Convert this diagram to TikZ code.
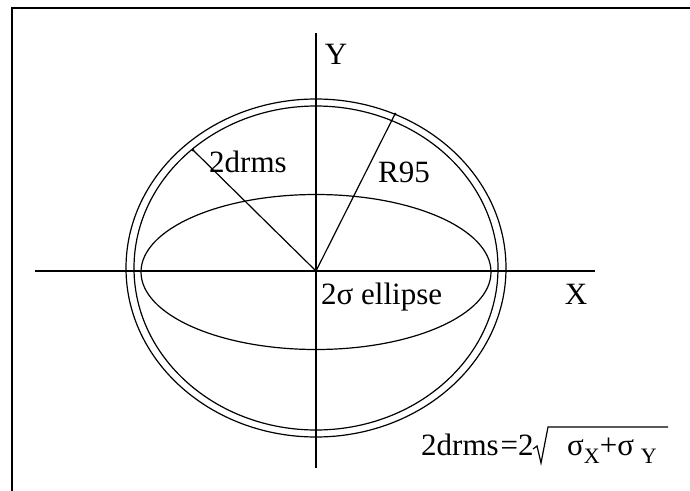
\documentclass[tikz,border=0pt]{standalone}
\usepackage{fontspec}
\setmainfont{Liberation Serif}
\newcommand{\subtxt}[1]{\raisebox{-0.28em}{\fontsize{22}{26}\selectfont #1}}
\begin{document}
\begin{tikzpicture}[x=1pt,y=-1pt,
  curve/.style={line width=1.2pt},
  axis/.style={line width=1.3pt},
  lbl/.style={inner sep=0pt,font=\fontsize{31}{36}\selectfont},
  tick/.style={fill=black,inner sep=0pt,minimum size=3pt,circle}]
\useasboundingbox (0,0) rectangle (690,490);
% frame
\draw[line width=2.4pt] (12,495) -- (12,8) -- (695,8);
% coordinates
\coordinate (O) at (316,271);
\coordinate (C) at (316,268);
\coordinate (E) at (316,272);
\coordinate (xl) at (35,271);
\coordinate (xr) at (595,271);
\coordinate (yt) at (316,33);
\coordinate (yb) at (316,468);
% axes
\draw[axis] (xl) -- (xr);
\draw[axis] (yt) -- (yb);
% circles and ellipse
\draw[curve] (C) ellipse [x radius=190, y radius=169];
\draw[curve] (C) ellipse [x radius=182, y radius=162];
\draw[curve] (E) ellipse [x radius=175, y radius=77.5];
% radii
\node[tick] (d2) at (193,150) {};
\node[tick] (r95) at (395,114) {};
\draw[curve] (O) -- (d2.center);
\draw[curve] (O) -- (r95.center);
% labels
\node[lbl,anchor=center] (Ylab) at (336,54) {Y};
\node[lbl,anchor=center] (Xlab) at (576,294) {X};
\node[lbl,anchor=base west] (drms) at (209,172) {2drms};
\node[lbl,anchor=base west] (R) at (378,182) {R95};
\node[lbl,anchor=base west] (ell) at (321,304) {2σ ellipse};
% formula
\node[lbl,anchor=base west] (form) at (421,455) {2drms\hspace{0.06em}=2};
\node[lbl,anchor=base west] (rad) at (567,455) {σ\subtxt{X}+σ\hspace{0.22em}\subtxt{Y}};
\draw[line width=1.2pt,line join=miter] (533,449) -- (537,446) -- (541,463) -- (548,427) -- (668,427);
\end{tikzpicture}
\end{document}
